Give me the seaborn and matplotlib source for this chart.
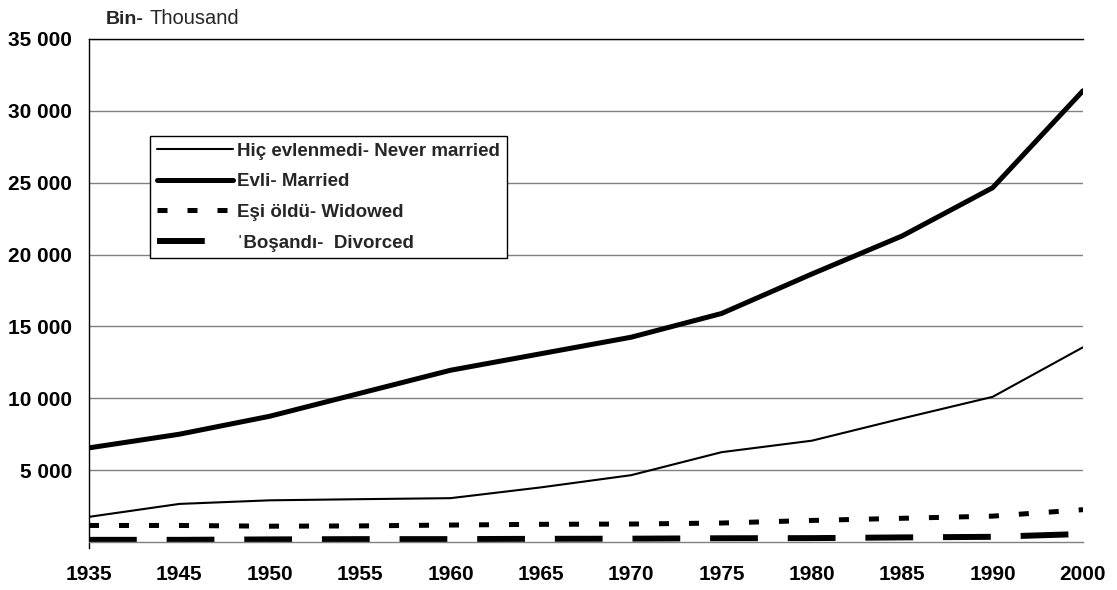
import matplotlib
matplotlib.use('Agg')
import matplotlib.pyplot as plt
import seaborn as sns
from matplotlib.ticker import FuncFormatter

# Population by marital status (thousand)
years = ['1935', '1945', '1950', '1955', '1960', '1965', '1970', '1975', '1980', '1985', '1990', '2000']
never_married = [1750, 2650, 2900, 2980, 3050, 3800, 4650, 6250, 7050, 8600, 10100, 13550]
married = [6550, 7500, 8750, 10350, 11950, 13100, 14250, 15900, 18650, 21300, 24650, 31400]
widowed = [1150, 1150, 1100, 1120, 1180, 1230, 1250, 1320, 1500, 1650, 1800, 2250]
divorced = [150, 150, 180, 200, 200, 220, 230, 260, 270, 320, 360, 560]

labels = ['Hiç evlenmedi- Never married', 'Evli- Married',
          'Eşi öldü- Widowed', 'ˈBoşandı-  Divorced']

sns.set_theme(style='white')
plt.rcParams['font.family'] = ['Liberation Sans', 'DejaVu Sans']

fig = plt.figure(figsize=(11.17, 5.9), dpi=100)
ax = fig.add_axes([89 / 1117, 48 / 590, 994 / 1117, 503 / 590])

# line width and dash pattern per series
line_styles = [(1.5, '-'), (3.6, '-'), (3.6, (0, (2, 4))), (4.3, (0, (8, 5)))]
series = [never_married, married, widowed, divorced]

for vals, lab, (lw, ls) in zip(series, labels, line_styles):
    sns.lineplot(x=years, y=vals, ax=ax, color='black', linewidth=lw,
                 linestyle=ls, label=lab, sort=False)

ax.set_xlim(0, len(years) - 1)
ax.set_ylim(0, 35000)
ax.set_yticks(range(5000, 35001, 5000))
ax.yaxis.set_major_formatter(FuncFormatter(lambda v, p: f'{v:,.0f}'.replace(',', ' ')))
ax.set_xlabel('')
ax.set_ylabel('')

ax.yaxis.grid(True, color='#808080', linewidth=1)
ax.set_axisbelow(True)

ax.spines['right'].set_visible(False)
ax.spines['top'].set_color('black')
ax.spines['left'].set_color('black')
ax.spines['bottom'].set_color('#808080')
for s in ['top', 'left', 'bottom']:
    ax.spines[s].set_linewidth(1)
ax.spines['left'].set_bounds(-450, 35000)

ax.tick_params(axis='x', direction='inout', length=9, width=1, color='#808080',
               pad=12, labelsize=15, labelcolor='black')
ax.tick_params(axis='y', length=0, pad=12, labelsize=15, labelcolor='black')
for t in ax.get_xticklabels() + ax.get_yticklabels():
    t.set_fontweight('bold')

leg = ax.legend(loc='upper left', bbox_to_anchor=(0.0614, 0.807), borderaxespad=0,
                frameon=True, fancybox=False, framealpha=1, edgecolor='black',
                prop={'weight': 'bold', 'size': 13.5}, handlelength=4.1,
                handletextpad=0.2, labelspacing=0.72, borderpad=0.35)
leg.get_frame().set_linewidth(1)

fig.text(106 / 1117, 1 - 24 / 590, 'Bin-', fontsize=14, fontweight='bold', va='baseline')
fig.text(149 / 1117, 1 - 24 / 590, 'Thousand', fontsize=14.5, va='baseline')

fig.savefig('out.png', dpi=100)
